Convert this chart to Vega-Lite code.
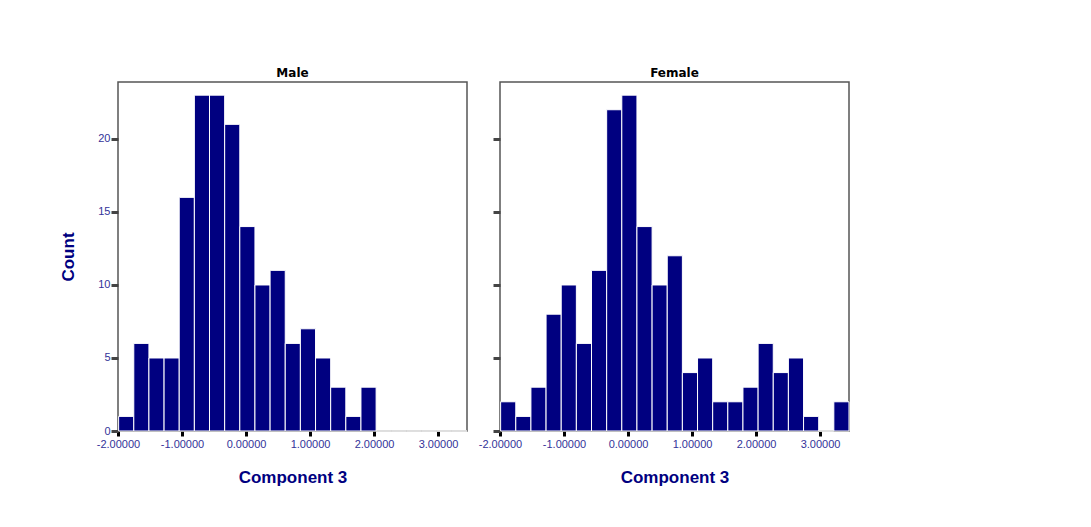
{
  "$schema": "https://vega.github.io/schema/vega-lite/v6.json",
  "padding": {"left": 59, "top": 66, "right": 5, "bottom": 5},
  "background": "white",
  "spacing": 8,
  "config": {
    "font": "Liberation Sans",
    "view": {"stroke": "#555555", "strokeWidth": 1.5},
    "title": {"font": "DejaVu Sans", "fontWeight": 900, "fontSize": 12, "color": "#000000", "offset": 2},
    "axis": {
      "grid": false,
      "domain": false,
      "labelColor": "#333399",
      "labelFont": "Liberation Sans",
      "labelFontSize": 11,
      "titleColor": "#000080",
      "titleFont": "Liberation Sans",
      "titleFontSize": 17,
      "titleFontWeight": "bold"
    }
  },
  "datasets": {
    "bins": [
      {"sex": "Male", "lo": -1.99, "hi": -1.7534, "count": 1},
      {"sex": "Male", "lo": -1.7534, "hi": -1.5168, "count": 6},
      {"sex": "Male", "lo": -1.5168, "hi": -1.2802, "count": 5},
      {"sex": "Male", "lo": -1.2802, "hi": -1.0436, "count": 5},
      {"sex": "Male", "lo": -1.0436, "hi": -0.807, "count": 16},
      {"sex": "Male", "lo": -0.807, "hi": -0.5704, "count": 23},
      {"sex": "Male", "lo": -0.5704, "hi": -0.3338, "count": 23},
      {"sex": "Male", "lo": -0.3338, "hi": -0.0972, "count": 21},
      {"sex": "Male", "lo": -0.0972, "hi": 0.1394, "count": 14},
      {"sex": "Male", "lo": 0.1394, "hi": 0.376, "count": 10},
      {"sex": "Male", "lo": 0.376, "hi": 0.6126, "count": 11},
      {"sex": "Male", "lo": 0.6126, "hi": 0.8492, "count": 6},
      {"sex": "Male", "lo": 0.8492, "hi": 1.0858, "count": 7},
      {"sex": "Male", "lo": 1.0858, "hi": 1.3224, "count": 5},
      {"sex": "Male", "lo": 1.3224, "hi": 1.559, "count": 3},
      {"sex": "Male", "lo": 1.559, "hi": 1.7956, "count": 1},
      {"sex": "Male", "lo": 1.7956, "hi": 2.0322, "count": 3},
      {"sex": "Male", "lo": 2.0322, "hi": 2.2688, "count": 0},
      {"sex": "Male", "lo": 2.2688, "hi": 2.5054, "count": 0},
      {"sex": "Male", "lo": 2.5054, "hi": 2.742, "count": 0},
      {"sex": "Male", "lo": 2.742, "hi": 2.9786, "count": 0},
      {"sex": "Male", "lo": 2.9786, "hi": 3.2152, "count": 0},
      {"sex": "Male", "lo": 3.2152, "hi": 3.4518, "count": 0},
      {"sex": "Female", "lo": -1.99, "hi": -1.7534, "count": 2},
      {"sex": "Female", "lo": -1.7534, "hi": -1.5168, "count": 1},
      {"sex": "Female", "lo": -1.5168, "hi": -1.2802, "count": 3},
      {"sex": "Female", "lo": -1.2802, "hi": -1.0436, "count": 8},
      {"sex": "Female", "lo": -1.0436, "hi": -0.807, "count": 10},
      {"sex": "Female", "lo": -0.807, "hi": -0.5704, "count": 6},
      {"sex": "Female", "lo": -0.5704, "hi": -0.3338, "count": 11},
      {"sex": "Female", "lo": -0.3338, "hi": -0.0972, "count": 22},
      {"sex": "Female", "lo": -0.0972, "hi": 0.1394, "count": 23},
      {"sex": "Female", "lo": 0.1394, "hi": 0.376, "count": 14},
      {"sex": "Female", "lo": 0.376, "hi": 0.6126, "count": 10},
      {"sex": "Female", "lo": 0.6126, "hi": 0.8492, "count": 12},
      {"sex": "Female", "lo": 0.8492, "hi": 1.0858, "count": 4},
      {"sex": "Female", "lo": 1.0858, "hi": 1.3224, "count": 5},
      {"sex": "Female", "lo": 1.3224, "hi": 1.559, "count": 2},
      {"sex": "Female", "lo": 1.559, "hi": 1.7956, "count": 2},
      {"sex": "Female", "lo": 1.7956, "hi": 2.0322, "count": 3},
      {"sex": "Female", "lo": 2.0322, "hi": 2.2688, "count": 6},
      {"sex": "Female", "lo": 2.2688, "hi": 2.5054, "count": 4},
      {"sex": "Female", "lo": 2.5054, "hi": 2.742, "count": 5},
      {"sex": "Female", "lo": 2.742, "hi": 2.9786, "count": 1},
      {"sex": "Female", "lo": 2.9786, "hi": 3.2152, "count": 0},
      {"sex": "Female", "lo": 3.2152, "hi": 3.4518, "count": 2}
    ]
  },
  "hconcat": [
    {
      "title": "Male",
      "width": 349,
      "height": 349,
      "data": {"name": "bins"},
      "transform": [{"filter": "datum.sex === 'Male'"}],
      "mark": {"type": "bar", "orient": "vertical", "color": "#000080", "stroke": "#ffffff", "strokeWidth": 1},
      "encoding": {
        "x": {
          "field": "lo", "type": "quantitative",
          "scale": {"domain": [-2.0, 3.452], "nice": false, "zero": false, "padding": 0},
          "axis": {"title": "Component 3", "values": [-2, -1, 0, 1, 2, 3], "labelExpr": "replace(format(datum.value, '.5f'), '\u2212', '-')", "labelFlush": false, "labelOverlap": false, "tickColor": "#000000", "tickWidth": 3, "tickSize": 5, "labelPadding": 2, "titlePadding": 20}
        },
        "x2": {"field": "hi"},
        "y": {
          "field": "count", "type": "quantitative",
          "scale": {"domain": [0, 23.9], "nice": false},
          "axis": {"title": "Count", "values": [0, 5, 10, 15, 20], "tickColor": "#444444", "tickWidth": 3, "tickSize": 7, "labelPadding": 1, "titlePadding": 20}
        },
        "y2": {"datum": 0}
      }
    },
    {
      "title": "Female",
      "width": 349,
      "height": 349,
      "data": {"name": "bins"},
      "transform": [{"filter": "datum.sex === 'Female'"}],
      "mark": {"type": "bar", "orient": "vertical", "color": "#000080", "stroke": "#ffffff", "strokeWidth": 1},
      "encoding": {
        "x": {
          "field": "lo", "type": "quantitative",
          "scale": {"domain": [-2.0, 3.452], "nice": false, "zero": false, "padding": 0},
          "axis": {"title": "Component 3", "values": [-2, -1, 0, 1, 2, 3], "labelExpr": "replace(format(datum.value, '.5f'), '\u2212', '-')", "labelFlush": false, "labelOverlap": false, "tickColor": "#000000", "tickWidth": 3, "tickSize": 5, "labelPadding": 2, "titlePadding": 20}
        },
        "x2": {"field": "hi"},
        "y": {
          "field": "count", "type": "quantitative",
          "scale": {"domain": [0, 23.9], "nice": false},
          "axis": {"title": null, "labels": false, "values": [0, 5, 10, 15, 20], "tickColor": "#444444", "tickWidth": 3, "tickSize": 7}
        },
        "y2": {"datum": 0}
      }
    }
  ]
}
